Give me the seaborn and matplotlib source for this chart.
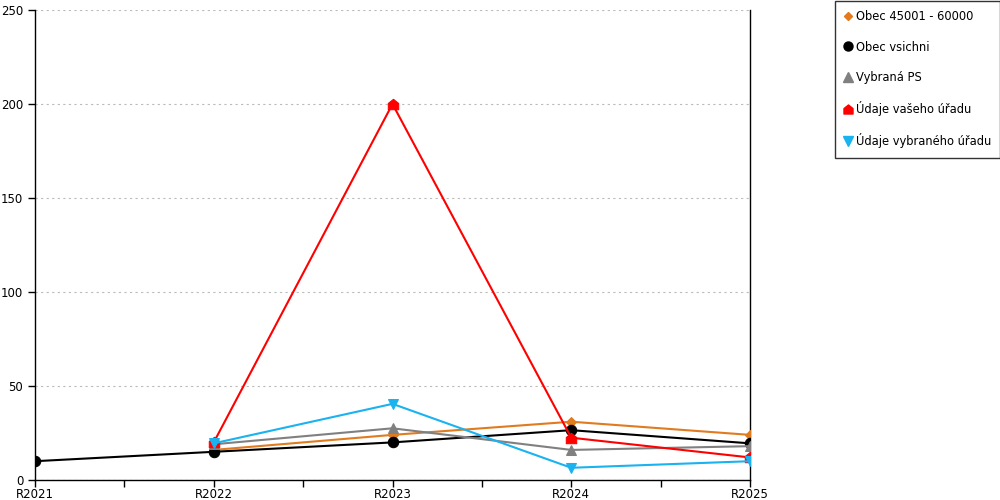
import numpy as np
import pandas as pd
import matplotlib
matplotlib.use('Agg')
import matplotlib.pyplot as plt
from matplotlib.lines import Line2D
from matplotlib.path import Path
import seaborn as sns

years = ['R2021', 'R2022', 'R2023', 'R2024', 'R2025']
obec_45001 = [np.nan, 16, 24, 31, 24]
obec_vsichni = [10, 15, 20, 26.5, 19.5]
vybrana_ps = [np.nan, 19, 27.5, 16, 18]
udaje_vaseho = [np.nan, 20, 200, 22.5, 12]
udaje_vybraneho = [np.nan, 19.5, 40.5, 6.5, 10]

house = Path([(-1, -1), (1, -1), (1, 0.2), (0, 1), (-1, 0.2), (-1, -1)],
             [Path.MOVETO, Path.LINETO, Path.LINETO, Path.LINETO, Path.LINETO, Path.CLOSEPOLY])

series = [
    ('Obec 45001 - 60000', obec_45001, '#e07b20', 'D', 5.5),
    ('Obec vsichni', obec_vsichni, '#000000', 'o', 7.5),
    ('Vybraná PS', vybrana_ps, '#808080', '^', 7.5),
    ('Údaje vašeho úřadu', udaje_vaseho, '#ff0000', house, 7.5),
    ('Údaje vybraného úřadu', udaje_vybraneho, '#1ab2ef', 'v', 7.5),
]

sns.set_style('ticks')
plt.rcParams['font.family'] = ['DejaVu Sans']

fig = plt.figure(figsize=(10, 5), dpi=100)
ax = fig.add_axes([0.035, 0.04, 0.715, 0.94])

x = np.arange(len(years))
handles = []
for name, vals, color, marker, ms in series:
    df = pd.DataFrame({'x': x, 'y': vals}).dropna()
    sns.lineplot(data=df, x='x', y='y', ax=ax, color=color, linewidth=1.5,
                 marker=marker, markersize=ms, markeredgecolor=color, zorder=3)
    handles.append(Line2D([], [], color=color, marker=marker, linestyle='none',
                          markersize=ms - 1, label=name))

ax.set_xlim(0, len(years) - 1)
ax.set_ylim(0, 250)
ax.set_yticks([0, 50, 100, 150, 200, 250])
ax.set_xticks(x)
ax.set_xticklabels(years)
ax.set_xticks(x[:-1] + 0.5, minor=True)
ax.set_xlabel('')
ax.set_ylabel('')
ax.yaxis.grid(True, linestyle=(0, (2, 3)), color='#bbbbbb', linewidth=0.8)
ax.xaxis.grid(False)

ax.spines['top'].set_visible(False)
for s in ['left', 'bottom', 'right']:
    ax.spines[s].set_visible(True)
    ax.spines[s].set_color('black')
    ax.spines[s].set_linewidth(1)

ax.tick_params(axis='both', which='both', direction='out', color='black',
               labelcolor='black', labelsize=8.5, length=5, width=1,
               left=True, bottom=True, right=False, top=False)
ax.tick_params(axis='x', which='both', pad=1)
ax.tick_params(axis='y', which='minor', left=False)

leg = fig.legend(handles=handles, loc='upper left', bbox_to_anchor=(0.835, 0.998),
                 frameon=True, fancybox=False, fontsize=8.3, labelspacing=1.5,
                 handletextpad=0.4, handlelength=0.6, borderpad=0.8, borderaxespad=0)
leg.get_frame().set_edgecolor('black')
leg.get_frame().set_linewidth(1)
for t in leg.get_texts():
    t.set_color('black')

fig.savefig('out.png', dpi=100)
